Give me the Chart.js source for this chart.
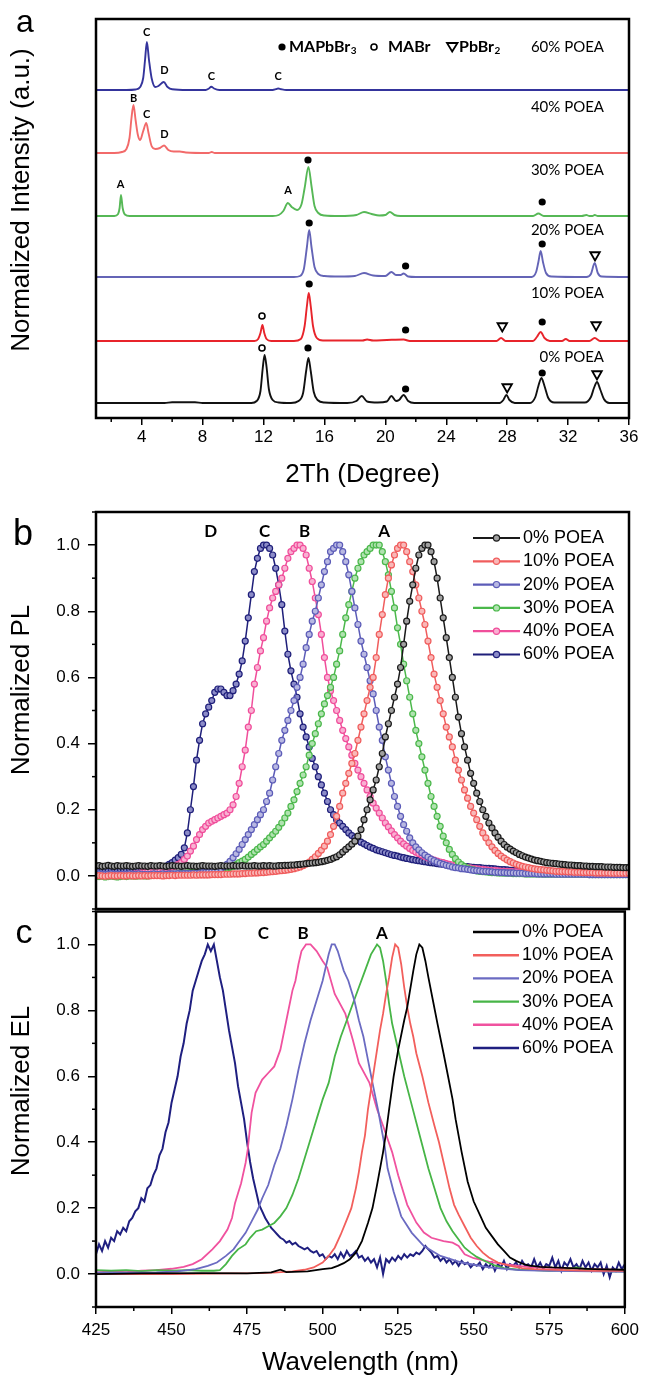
<!DOCTYPE html>
<html><head><meta charset="utf-8">
<script src="https://cdn.jsdelivr.net/npm/chart.js"></script>
<style>
html,body{margin:0;padding:0;background:#fff;}
#wrap{position:relative;width:645px;height:1378px;overflow:hidden;background:#fff;}
canvas{position:absolute;left:0;top:0;}
</style></head><body>
<div id="wrap">
<canvas id="ca" width="645" height="1378"></canvas>
<canvas id="cb" width="645" height="1378"></canvas>
<canvas id="cc" width="645" height="1378"></canvas>
</div>
<script>
// ---------------- DATA ----------------
const seriesLabels = ['0% POEA','10% POEA','20% POEA','30% POEA','40% POEA','60% POEA'];

// Panel a : XRD (2Theta, relative intensity above each trace's baseline)
const xrdTicks = [4,8,12,16,20,24,28,32,36];
const xrdMinorTicks = [2,6,10,14,18,22,26,30,34];
const xrdOffsets = [15,77,141,202,265,328];
const xrd0 = [[1,0],[5.5,0],[6,0.8],[7.5,0.8],[8,0],[11.2,0],[11.55,2],[11.8,12],[11.95,35],[12.07,48],[12.2,36],[12.35,14],[12.6,3],[13,0.5],[13.8,0],[14.3,2],[14.6,10],[14.8,32],[14.95,45],[15.1,32],[15.3,11],[15.55,3],[16,0.5],[17.5,0],[18.1,2],[18.45,7],[18.8,1.5],[19.5,0.5],[20.1,1.5],[20.4,7],[20.7,2],[20.9,3],[21.2,8],[21.5,2],[21.9,0],[27.5,0],[27.75,3],[27.95,8],[28.15,3],[28.5,0],[29.5,0],[29.85,6],[30.05,17],[30.25,25],[30.45,17],[30.7,5],[31.1,0.5],[33.1,0.5],[33.5,6],[33.7,15],[33.9,21],[34.1,14],[34.35,4],[34.7,0],[36,0]];
const xrd10 = [[1,0],[11.4,0],[11.65,2],[11.8,8],[11.93,16],[12.05,8],[12.2,2],[12.5,0],[14,0],[14.45,2],[14.7,15],[14.85,35],[14.97,48],[15.1,35],[15.25,15],[15.5,3],[15.9,0.5],[18.5,0.5],[18.8,1.5],[19.2,0.5],[20.1,1],[21.2,1.5],[21.6,0],[27.3,0],[27.6,3],[27.9,0],[29.7,0],[29.95,4],[30.2,9],[30.45,3],[30.8,0],[31.6,0],[31.85,2],[32.1,0],[33.4,0],[33.75,3],[34.1,0],[36,0]];
const xrd20 = [[1,0],[14,0],[14.4,1],[14.65,8],[14.85,30],[15.0,47],[15.15,30],[15.35,10],[15.6,3],[16,1],[17,0.5],[18,1],[18.6,4],[19.2,1.5],[20,1],[20.4,5],[20.7,2],[21.0,2],[21.2,3.5],[21.5,0.5],[22,0],[29.6,0],[29.9,5],[30.05,15],[30.2,26],[30.35,15],[30.55,4],[30.9,0.5],[33.2,0],[33.5,3],[33.75,14],[33.95,4],[34.2,0.5],[36,0]];
const xrd30 = [[1,0],[2.2,0],[2.45,2],[2.55,8],[2.64,21],[2.75,8],[2.9,1.5],[3.2,0],[12.6,0],[13,1],[13.3,5],[13.6,13],[13.85,9],[14.2,6],[14.5,12],[14.7,28],[14.95,49],[15.15,30],[15.35,10],[15.6,3],[16,0.5],[17,0],[18.1,1],[18.6,4],[19.1,2],[19.6,0.5],[20.0,1],[20.3,4],[20.6,1],[21,0],[29.7,0],[30.05,2.5],[30.4,0],[32.9,0],[33.2,1],[33.4,0],[33.6,0],[33.75,1],[33.95,0],[36,0]];
const xrd40 = [[1,0],[2.2,0],[2.7,1],[3,4],[3.2,15],[3.33,35],[3.46,48],[3.6,33],[3.75,18],[3.9,13],[4.1,22],[4.3,30],[4.45,20],[4.65,7],[4.9,4],[5.2,5],[5.47,7.5],[5.75,3],[6.1,1.5],[6.5,1.5],[6.9,0.5],[8.4,0],[8.6,1],[8.8,0],[36,0]];
const xrd60 = [[1,0],[3,0],[3.6,0.5],[3.9,3],[4.1,12],[4.22,30],[4.34,48],[4.48,30],[4.65,12],[4.9,3],[5.1,4],[5.45,8],[5.7,3],[6,0.7],[7,0],[8.2,0],[8.42,1.5],[8.57,3.3],[8.75,1.5],[9.1,0],[12.6,0],[12.82,0.8],[12.96,1.5],[13.15,0.8],[13.5,0],[36,0]];
// phase markers [2Theta, y]
const mapbbr3Marks = [[14.92,258],[30.3,216],[15.0,195],[21.33,152],[30.3,174],[15.0,134],[21.33,88],[30.3,96],[14.92,70],[21.33,29],[30.3,45]];
const mabrMarks = [[11.9,102],[11.9,70]];
const pbbr2Marks = [[33.77,163],[27.68,92],[33.84,93],[28.0,31],[33.9,44]];

// Panel b : PL, one value per nm from 425 nm to 600 nm
const wlStart = 425;
const wlTicks = [425,450,475,500,525,550,575,600];
const wlMinorTicks = [437.5,462.5,487.5,512.5,537.5,562.5,587.5];
const normTicks = [0,0.2,0.4,0.6,0.8,1.0];
const normMinorTicks = [-0.1,0.1,0.3,0.5,0.7,0.9,1.1];
const pl0 = [0.03,0.031,0.029,0.03,0.032,0.03,0.029,0.031,0.03,0.03,
0.031,0.03,0.029,0.03,0.031,0.03,0.03,0.029,0.031,0.03,
0.03,0.031,0.03,0.029,0.03,0.031,0.03,0.03,0.029,0.03,
0.031,0.03,0.03,0.029,0.03,0.031,0.03,0.03,0.03,0.029,
0.03,0.031,0.03,0.03,0.03,0.031,0.03,0.03,0.031,0.03,
0.03,0.03,0.031,0.03,0.03,0.031,0.03,0.031,0.03,0.03,
0.031,0.031,0.032,0.032,0.033,0.033,0.034,0.035,0.036,0.037,
0.038,0.039,0.04,0.041,0.043,0.045,0.047,0.05,0.054,0.058,
0.064,0.072,0.08,0.088,0.096,0.105,0.12,0.14,0.17,0.2,
0.23,0.26,0.29,0.33,0.37,0.42,0.46,0.5,0.54,0.58,
0.63,0.7,0.77,0.83,0.88,0.93,0.97,0.99,1.0,1.0,
0.98,0.95,0.9,0.84,0.78,0.72,0.66,0.6,0.54,0.48,
0.43,0.39,0.35,0.31,0.28,0.25,0.225,0.2,0.18,0.16,
0.145,0.13,0.117,0.105,0.095,0.087,0.081,0.075,0.07,0.065,
0.061,0.057,0.054,0.051,0.048,0.046,0.044,0.042,0.04,0.039,
0.038,0.037,0.036,0.035,0.034,0.033,0.033,0.032,0.031,0.031,
0.03,0.03,0.029,0.029,0.028,0.028,0.028,0.027,0.027,0.027,
0.026,0.026,0.026,0.025,0.025,0.025];
const pl10 = [0.0,0.001,0.0,-0.001,0.0,0.001,0.0,0.0,0.001,0.0,
0.0,0.001,0.0,0.0,0.001,0.0,0.001,0.0,0.001,0.001,
0.001,0.001,0.0,0.001,0.001,0.002,0.001,0.002,0.002,0.002,
0.002,0.002,0.003,0.002,0.003,0.003,0.003,0.003,0.004,0.004,
0.004,0.004,0.005,0.005,0.005,0.006,0.006,0.006,0.007,0.007,
0.008,0.008,0.009,0.009,0.01,0.01,0.011,0.012,0.013,0.014,
0.015,0.016,0.017,0.018,0.02,0.022,0.024,0.027,0.031,0.036,
0.042,0.05,0.058,0.068,0.078,0.09,0.105,0.125,0.15,0.18,
0.21,0.25,0.28,0.31,0.34,0.37,0.41,0.45,0.49,0.53,
0.57,0.6,0.66,0.73,0.79,0.85,0.9,0.94,0.97,0.99,
1.0,1.0,0.98,0.95,0.92,0.88,0.84,0.8,0.76,0.71,
0.66,0.61,0.57,0.53,0.49,0.45,0.42,0.39,0.35,0.32,
0.29,0.26,0.235,0.21,0.19,0.17,0.15,0.13,0.115,0.1,
0.088,0.077,0.068,0.06,0.054,0.048,0.043,0.039,0.035,0.032,
0.029,0.027,0.025,0.023,0.021,0.02,0.019,0.018,0.017,0.016,
0.015,0.014,0.014,0.013,0.013,0.012,0.012,0.011,0.011,0.011,
0.01,0.01,0.01,0.01,0.009,0.009,0.009,0.009,0.009,0.008,
0.008,0.008,0.008,0.008,0.008,0.008];
const pl20 = [0.005,0.006,0.005,0.004,0.005,0.006,0.005,0.005,0.004,0.005,
0.005,0.006,0.005,0.005,0.006,0.005,0.004,0.005,0.005,0.006,
0.005,0.005,0.006,0.005,0.006,0.006,0.006,0.007,0.006,0.007,
0.007,0.007,0.008,0.008,0.009,0.01,0.011,0.012,0.013,0.015,
0.018,0.022,0.028,0.035,0.044,0.055,0.067,0.08,0.095,0.11,
0.125,0.14,0.155,0.17,0.185,0.2,0.225,0.25,0.29,0.33,
0.37,0.41,0.44,0.47,0.5,0.53,0.57,0.6,0.64,0.69,
0.73,0.77,0.8,0.84,0.88,0.92,0.95,0.98,0.99,1.0,
1.0,0.98,0.95,0.91,0.86,0.81,0.76,0.71,0.67,0.63,
0.59,0.55,0.5,0.45,0.41,0.36,0.32,0.28,0.24,0.21,
0.18,0.155,0.135,0.115,0.1,0.088,0.079,0.07,0.063,0.057,
0.051,0.046,0.042,0.038,0.035,0.032,0.03,0.027,0.025,0.024,
0.022,0.021,0.02,0.018,0.017,0.016,0.015,0.014,0.014,0.013,
0.012,0.011,0.011,0.01,0.01,0.009,0.009,0.009,0.008,0.008,
0.008,0.007,0.007,0.007,0.007,0.006,0.006,0.006,0.006,0.006,
0.006,0.005,0.005,0.005,0.005,0.005,0.005,0.005,0.005,0.005,
0.005,0.005,0.004,0.004,0.004,0.004,0.004,0.004,0.004,0.004,
0.004,0.004,0.004,0.004,0.004,0.004];
const pl30 = [0.0,-0.002,0.0,-0.003,-0.002,0.0,-0.002,-0.003,-0.002,0.0,
-0.002,0.0,0.0,-0.001,0.0,0.001,0.0,0.0,0.001,0.002,
0.002,0.003,0.003,0.004,0.004,0.005,0.005,0.006,0.007,0.008,
0.009,0.01,0.011,0.012,0.013,0.015,0.016,0.017,0.018,0.019,
0.02,0.021,0.022,0.024,0.026,0.029,0.034,0.04,0.045,0.05,
0.057,0.065,0.072,0.08,0.088,0.095,0.105,0.115,0.125,0.135,
0.147,0.16,0.175,0.19,0.21,0.23,0.255,0.28,0.305,0.33,
0.365,0.4,0.43,0.46,0.49,0.52,0.545,0.57,0.6,0.64,
0.68,0.73,0.78,0.82,0.86,0.9,0.93,0.95,0.97,0.98,
0.99,1.0,1.0,1.0,0.98,0.95,0.91,0.86,0.81,0.75,
0.7,0.64,0.59,0.54,0.49,0.44,0.4,0.36,0.32,0.28,
0.24,0.21,0.18,0.15,0.12,0.1,0.08,0.065,0.052,0.042,
0.034,0.028,0.024,0.02,0.018,0.015,0.014,0.013,0.012,0.011,
0.01,0.01,0.009,0.009,0.008,0.008,0.008,0.007,0.007,0.007,
0.007,0.006,0.006,0.006,0.006,0.006,0.006,0.005,0.005,0.005,
0.005,0.005,0.005,0.005,0.005,0.005,0.005,0.005,0.005,0.005,
0.005,0.005,0.004,0.004,0.004,0.004,0.004,0.004,0.004,0.004,
0.004,0.004,0.004,0.004,0.004,0.004];
const pl40 = [0.0,0.001,0.0,0.0,0.001,0.0,0.0,0.001,0.002,0.003,
0.004,0.005,0.005,0.006,0.008,0.01,0.011,0.013,0.015,0.016,
0.018,0.02,0.021,0.023,0.025,0.027,0.03,0.035,0.04,0.05,
0.06,0.075,0.09,0.11,0.125,0.14,0.15,0.16,0.165,0.17,
0.175,0.18,0.185,0.19,0.2,0.215,0.24,0.28,0.33,0.38,
0.45,0.5,0.58,0.63,0.68,0.72,0.77,0.81,0.84,0.86,
0.88,0.9,0.93,0.96,0.98,0.99,1.0,1.0,0.99,0.97,
0.93,0.89,0.84,0.79,0.73,0.66,0.6,0.56,0.53,0.5,
0.47,0.44,0.415,0.39,0.365,0.34,0.32,0.3,0.28,0.26,
0.24,0.22,0.205,0.19,0.175,0.16,0.148,0.136,0.125,0.115,
0.105,0.097,0.09,0.083,0.077,0.072,0.067,0.063,0.059,0.055,
0.051,0.048,0.045,0.042,0.04,0.037,0.035,0.033,0.031,0.029,
0.027,0.026,0.025,0.024,0.022,0.021,0.02,0.019,0.018,0.017,
0.016,0.016,0.015,0.014,0.014,0.013,0.013,0.012,0.012,0.011,
0.011,0.011,0.01,0.01,0.01,0.009,0.009,0.009,0.009,0.008,
0.008,0.008,0.008,0.008,0.007,0.007,0.007,0.007,0.007,0.007,
0.006,0.006,0.006,0.006,0.006,0.006,0.006,0.005,0.005,0.005,
0.005,0.005,0.005,0.005,0.005,0.005];
const pl60 = [0.02,0.019,0.021,0.02,0.018,0.02,0.021,0.019,0.02,0.02,
0.019,0.021,0.02,0.02,0.019,0.021,0.02,0.021,0.02,0.021,
0.022,0.024,0.026,0.03,0.035,0.04,0.048,0.055,0.065,0.085,
0.13,0.2,0.27,0.35,0.41,0.46,0.49,0.51,0.53,0.555,
0.565,0.565,0.555,0.545,0.545,0.56,0.58,0.61,0.65,0.71,
0.78,0.85,0.92,0.96,0.99,1.0,1.0,0.99,0.97,0.93,
0.88,0.82,0.74,0.67,0.62,0.58,0.54,0.49,0.45,0.42,
0.39,0.355,0.33,0.3,0.275,0.25,0.225,0.2,0.185,0.17,
0.16,0.15,0.14,0.13,0.122,0.115,0.108,0.102,0.097,0.092,
0.087,0.083,0.079,0.076,0.073,0.07,0.067,0.064,0.062,0.06,
0.057,0.055,0.053,0.051,0.049,0.047,0.046,0.044,0.043,0.041,
0.04,0.039,0.037,0.036,0.035,0.034,0.033,0.032,0.031,0.03,
0.029,0.028,0.028,0.027,0.026,0.025,0.025,0.024,0.023,0.023,
0.022,0.021,0.02,0.019,0.019,0.018,0.017,0.017,0.016,0.016,
0.015,0.015,0.014,0.014,0.014,0.013,0.013,0.012,0.012,0.012,
0.011,0.011,0.011,0.01,0.01,0.01,0.01,0.009,0.009,0.009,
0.009,0.008,0.008,0.008,0.008,0.007,0.007,0.007,0.007,0.006,
0.006,0.006,0.006,0.005,0.005,0.005];

// Panel c : EL [wavelength, normalized EL]
const el0 = [[425,0],[440,0.002],[460,0.003],[475,0.002],[483,0.005],[486,0.013],[488,0.006],[495,0.008],[500,0.015],[503,0.018],[505,0.025],[507,0.033],[509,0.045],[511,0.065],[513,0.1],[515,0.155],[516.5,0.2],[518,0.27],[520,0.37],[521,0.43],[522,0.5],[523.5,0.6],[525,0.68],[527,0.77],[528,0.81],[530,0.92],[531,0.97],[532,1.0],[533,0.99],[534,0.95],[535,0.9],[536.5,0.83],[538,0.76],[540,0.67],[541.5,0.6],[543,0.53],[544,0.47],[545,0.42],[546,0.37],[548,0.28],[550,0.22],[552,0.18],[554,0.14],[556,0.115],[558,0.09],[560,0.07],[562,0.05],[564,0.04],[566,0.032],[568,0.026],[572,0.022],[576,0.02],[580,0.019],[590,0.015],[600,0.013]];
const el10 = [[425,0],[450,0],[470,0.002],[480,0.003],[485,0.005],[490,0.008],[494,0.013],[497,0.02],[500,0.035],[502,0.055],[504,0.08],[506,0.12],[508,0.165],[509.5,0.2],[511,0.26],[512,0.31],[513,0.37],[514,0.42],[515,0.5],[516,0.56],[517,0.62],[518,0.68],[519,0.74],[520,0.79],[521,0.85],[522,0.9],[523,0.96],[524,1.0],[525,0.99],[526,0.94],[527,0.87],[528,0.81],[529,0.76],[530,0.72],[531,0.67],[533,0.6],[535,0.52],[537,0.45],[538.5,0.4],[540,0.34],[541,0.3],[542,0.26],[543.5,0.21],[545,0.18],[547,0.145],[549,0.11],[551,0.085],[553,0.065],[555,0.05],[558,0.035],[562,0.025],[566,0.018],[570,0.015],[580,0.012],[590,0.01],[600,0.01]];
const el20 = [[425,0.004],[435,0.004],[445,0.005],[452,0.008],[458,0.015],[462,0.025],[465,0.035],[468,0.055],[470.5,0.075],[472.5,0.1],[474.5,0.125],[476.5,0.16],[478.5,0.195],[480,0.23],[482,0.27],[484,0.33],[486,0.38],[488,0.45],[490,0.53],[492,0.62],[494,0.7],[496,0.77],[498,0.83],[500,0.89],[501,0.93],[502,0.97],[503,1.0],[504,1.0],[505,0.98],[506,0.95],[507,0.92],[508.5,0.89],[510.5,0.83],[512,0.77],[513.5,0.72],[515,0.65],[516.5,0.58],[518.5,0.49],[520.5,0.39],[521.5,0.32],[523.5,0.25],[526,0.175],[529.5,0.125],[533.5,0.085],[539,0.055],[546,0.035],[555,0.02],[565,0.012],[575,0.01],[590,0.008],[600,0.007]];
const el30 = [[425,0.012],[430,0.01],[435,0.012],[440,0.009],[445,0.012],[450,0.01],[455,0.012],[460,0.01],[464,0.01],[466,0.012],[468,0.03],[470,0.055],[472,0.075],[474.5,0.09],[476,0.11],[478,0.13],[480,0.135],[482,0.145],[484,0.155],[486,0.175],[488,0.2],[490,0.24],[492,0.29],[494,0.35],[496,0.41],[498,0.47],[500,0.53],[502,0.58],[504,0.66],[506,0.72],[508,0.77],[510,0.82],[512,0.87],[514,0.92],[516,0.97],[518,1.0],[519,0.99],[520,0.95],[521,0.89],[522,0.82],[523,0.76],[525,0.68],[527,0.6],[529,0.53],[531,0.46],[533,0.39],[535,0.32],[537,0.26],[539,0.2],[541,0.16],[543,0.13],[545,0.105],[547,0.08],[549,0.065],[551,0.052],[554,0.038],[557,0.026],[560,0.018],[565,0.013],[570,0.012],[575,0.01],[580,0.012],[584,0.02],[587,0.015],[590,0.01],[595,0.008],[600,0.008]];
const el40 = [[425,0.005],[430,0.008],[435,0.006],[440,0.01],[445,0.012],[450,0.016],[454,0.022],[457,0.03],[460,0.045],[463.5,0.075],[466,0.1],[468.5,0.135],[470,0.17],[471,0.215],[472,0.245],[473,0.275],[474.5,0.337],[475.2,0.377],[475.8,0.43],[476.5,0.49],[477.8,0.55],[480,0.59],[482,0.61],[484,0.63],[486,0.68],[488,0.77],[490,0.86],[491,0.89],[492,0.94],[493,0.98],[494.5,1.0],[496,1.0],[498,0.98],[500,0.95],[501.5,0.93],[504,0.85],[507.5,0.79],[510,0.71],[512,0.64],[515.5,0.58],[518,0.5],[520,0.45],[523,0.37],[525,0.3],[528,0.21],[531,0.156],[533.5,0.126],[536,0.11],[540,0.1],[543,0.095],[545,0.085],[547,0.06],[550,0.048],[555,0.038],[560,0.03],[569,0.02],[580,0.018],[590,0.015],[600,0.012]];
// 60% EL, one value per nm from 425 nm
const el60 = [0.06,0.09,0.07,0.1,0.08,0.11,0.1,0.13,0.12,0.14,
0.13,0.16,0.17,0.19,0.2,0.23,0.22,0.26,0.27,0.3,
0.32,0.36,0.38,0.43,0.46,0.52,0.56,0.6,0.66,0.7,
0.76,0.8,0.86,0.89,0.92,0.95,0.97,1.0,0.98,1.0,
0.95,0.9,0.86,0.8,0.74,0.69,0.64,0.57,0.52,0.47,
0.4,0.34,0.29,0.25,0.21,0.19,0.17,0.155,0.14,0.13,
0.12,0.11,0.105,0.095,0.1,0.09,0.095,0.085,0.08,0.075,
0.08,0.07,0.065,0.07,0.055,0.06,0.045,0.055,0.05,0.06,
0.045,0.065,0.05,0.07,0.055,0.06,0.07,0.05,0.055,0.04,
0.05,0.035,0.045,0.02,0.05,0.0,0.045,0.035,0.05,0.04,
0.055,0.045,0.06,0.05,0.06,0.055,0.065,0.06,0.07,0.085,
0.075,0.065,0.05,0.055,0.04,0.05,0.035,0.045,0.03,0.04,
0.025,0.04,0.03,0.035,0.02,0.03,0.025,0.035,0.015,0.03,
0.02,0.035,0.01,0.03,0.02,0.04,0.015,0.03,0.025,0.035,
0.02,0.04,0.025,0.03,0.02,0.045,0.02,0.035,0.015,0.03,
0.025,0.05,0.02,0.04,0.01,0.035,0.025,0.045,0.02,0.03,
0.015,0.04,0.02,0.035,0.01,0.03,0.02,0.035,0.0,0.025,
-0.01,0.02,0.01,0.035,0.015,0.03];

// ---------------- STYLE ----------------
const FONT = "'Liberation Sans', Arial, sans-serif";
const CAL = "Lato, 'Open Sans', sans-serif";
Chart.defaults.font.family = FONT;
Chart.defaults.color = '#000';
const xrdColors = ['#111111','#e8242b','#6464b6','#56b856','#f26a6a','#34349c'];
const plColors = ['#1a1a1a','#f05d5d','#5c5cb8','#4bb84b','#f04e9b','#1f1f7a'];
const plFills  = ['#a0a0a0','#f9b8b8','#b8b8e2','#b0e2b0','#f9b0d2','#8c8cc8'];
const elColors = ['#000000','#f25f5c','#6b6bc2','#47b547','#f0529f','#1f1f80'];

function sub(ctx, main, s, x, y, f1, f2){
  ctx.font = f1; ctx.fillText(main, x, y);
  const w = ctx.measureText(main).width;
  ctx.font = f2; ctx.fillText(s, x + w + 0.5, y + 4);
}
function yTitle(ctx, text, cx, cy){
  ctx.save(); ctx.translate(cx, cy); ctx.rotate(-Math.PI/2);
  ctx.font = '26px ' + FONT; ctx.textAlign = 'center'; ctx.textBaseline = 'middle';
  ctx.fillStyle = '#000'; ctx.fillText(text, 0, 0); ctx.restore();
}
function frame(ctx, a){
  ctx.strokeStyle = '#000'; ctx.lineWidth = 2.5;
  ctx.strokeRect(a.left, a.top, a.right - a.left, a.bottom - a.top);
}
function minorX(ctx, a, sx, vals, len){
  ctx.strokeStyle = '#000'; ctx.lineWidth = 1.5;
  vals.forEach(v => { const p = sx.getPixelForValue(v); ctx.beginPath(); ctx.moveTo(p, a.bottom); ctx.lineTo(p, a.bottom + len); ctx.stroke(); });
}
function minorY(ctx, a, sy, vals, len){
  ctx.strokeStyle = '#000'; ctx.lineWidth = 1.5;
  vals.forEach(v => { const p = sy.getPixelForValue(v); ctx.beginPath(); ctx.moveTo(a.left - len, p); ctx.lineTo(a.left, p); ctx.stroke(); });
}
function panelLetter(ctx, t, x, y, size){
  ctx.font = size + 'px ' + FONT; ctx.textAlign = 'center'; ctx.textBaseline = 'alphabetic';
  ctx.fillStyle = '#000'; ctx.fillText(t, x, y);
}

const baseOpts = {
  responsive: false, animation: false, devicePixelRatio: 1,
  plugins: { legend: {display: false}, tooltip: {enabled: false} }
};

// ---------------- PANEL A ----------------
const xrdSeries = [xrd0, xrd10, xrd20, xrd30, xrd40, xrd60];
const panelA = {
  id: 'panelA',
  afterDatasetsDraw(chart){
    const {ctx, chartArea: a, scales: {x, y}} = chart;
    ctx.save();
    minorX(ctx, a, x, xrdMinorTicks, 4);
    frame(ctx, a);
    ctx.fillStyle = '#000'; ctx.textBaseline = 'middle';
    const letters = [['C',4.32,386],['D',5.5,348],['C',8.57,342],['C',12.96,342],['B',3.47,320],['C',4.32,304],['D',5.5,284],['A',2.62,234],['A',13.61,228]];
    ctx.font = 'bold 11px ' + CAL; ctx.textAlign = 'center';
    letters.forEach(([t, vx, vy]) => ctx.fillText(t, x.getPixelForValue(vx), y.getPixelForValue(vy)));
    const labY = [61,125,188,248,311,371];
    ctx.font = '15px ' + CAL; ctx.textAlign = 'right';
    seriesLabels.forEach((t, i) => ctx.fillText(t, 604, y.getPixelForValue(labY[i])));
    // phase legend
    const ly = 47;
    ctx.textAlign = 'left';
    ctx.beginPath(); ctx.arc(282, ly, 3.6, 0, 2*Math.PI); ctx.fill();
    sub(ctx, 'MAPbBr', '3', 289, ly, 'bold 16px ' + CAL, 'bold 10px ' + CAL);
    ctx.strokeStyle = '#000'; ctx.lineWidth = 1.6;
    ctx.beginPath(); ctx.arc(374, ly, 3, 0, 2*Math.PI); ctx.stroke();
    ctx.font = 'bold 16px ' + CAL; ctx.fillText('MABr', 388, ly);
    ctx.lineWidth = 1.8;
    ctx.beginPath(); ctx.moveTo(447, ly - 4); ctx.lineTo(457.5, ly - 4); ctx.lineTo(452.2, ly + 4.5); ctx.closePath(); ctx.stroke();
    sub(ctx, 'PbBr', '2', 459, ly, 'bold 16px ' + CAL, 'bold 10px ' + CAL);
    panelLetter(ctx, 'a', 25, 32, 32);
    yTitle(ctx, 'Normalized Intensity (a.u.)', 22, 200);
    ctx.restore();
  }
};
new Chart(document.getElementById('ca'), {
  type: 'line',
  data: { datasets: [
    ...xrdSeries.map((s, i) => ({
      label: seriesLabels[i],
      data: s.map(([x, h]) => ({x, y: h + xrdOffsets[i]})),
      borderColor: xrdColors[i], borderWidth: 1.9, pointRadius: 0,
      cubicInterpolationMode: 'monotone', fill: false
    })),
    {label: 'MAPbBr3', data: mapbbr3Marks.map(([x, y]) => ({x, y})), showLine: false,
     pointStyle: 'circle', pointRadius: 3.6, pointBackgroundColor: '#000', pointBorderColor: '#000', pointBorderWidth: 0},
    {label: 'MABr', data: mabrMarks.map(([x, y]) => ({x, y})), showLine: false,
     pointStyle: 'circle', pointRadius: 3, pointBackgroundColor: '#fff', pointBorderColor: '#000', pointBorderWidth: 1.6},
    {label: 'PbBr2', data: pbbr2Marks.map(([x, y]) => ({x, y})), showLine: false,
     pointStyle: 'triangle', pointRotation: 180, pointRadius: 5.5, pointBackgroundColor: '#fff', pointBorderColor: '#000', pointBorderWidth: 1.8}
  ]},
  options: {
    ...baseOpts,
    layout: {padding: {left: 0, right: 16, top: 19, bottom: 888}},
    scales: {
      x: {type: 'linear', min: 1, max: 36,
        afterBuildTicks: s => { s.ticks = xrdTicks.map(v => ({value: v})); },
        ticks: {font: {size: 17}, color: '#000', padding: 2, maxRotation: 0, autoSkip: false, callback: v => String(v)},
        grid: {drawOnChartArea: false, drawTicks: true, tickLength: 7, color: '#000', lineWidth: 1.5},
        border: {display: false},
        title: {display: true, text: '2Th (Degree)', font: {size: 26}, color: '#000', padding: {top: 0, bottom: 0}},
        afterFit: s => { s.height = 72; }},
      y: {type: 'linear', min: 0, max: 399, ticks: {display: false}, grid: {display: false}, border: {display: false},
        afterFit: s => { s.width = 96; }}
    }
  },
  plugins: [panelA]
});

// ---------------- PANEL B ----------------
const plSeries = [pl0, pl10, pl20, pl30, pl40, pl60];
const panelB = {
  id: 'panelB',
  afterDatasetsDraw(chart){
    const {ctx, chartArea: a, scales: {x, y}} = chart;
    ctx.save();
    minorY(ctx, a, y, normMinorTicks, 4);
    frame(ctx, a);
    ctx.fillStyle = '#000'; ctx.textBaseline = 'middle'; ctx.textAlign = 'center';
    ctx.font = 'bold 17px ' + CAL;
    [['D',462.7],['C',480.4],['B',493.5],['A',519.6]].forEach(([t, v]) => ctx.fillText(t, x.getPixelForValue(v), y.getPixelForValue(1.042)));
    const rows = [538, 561.3, 584.6, 607.9, 631.2, 654.5];
    chart.data.datasets.forEach((ds, i) => {
      const yy = rows[i];
      ctx.strokeStyle = ds.borderColor; ctx.lineWidth = 2.2;
      ctx.beginPath(); ctx.moveTo(473, yy); ctx.lineTo(520, yy); ctx.stroke();
      ctx.fillStyle = ds.pointBackgroundColor; ctx.lineWidth = 1.2;
      ctx.beginPath(); ctx.arc(496.5, yy, 3.1, 0, 2*Math.PI); ctx.fill(); ctx.stroke();
      ctx.fillStyle = '#000'; ctx.font = '18px ' + FONT; ctx.textAlign = 'left';
      ctx.fillText(ds.label, 523, yy);
    });
    panelLetter(ctx, 'b', 23, 545, 36);
    yTitle(ctx, 'Normalized PL', 22, 690);
    ctx.restore();
  }
};
const normY = {
  type: 'linear', min: -0.1, max: 1.1,
  afterBuildTicks: s => { s.ticks = normTicks.map(v => ({value: v})); },
  ticks: {font: {size: 17}, color: '#000', padding: 8, autoSkip: false, callback: v => Number(v).toFixed(1)},
  grid: {drawOnChartArea: false, drawTicks: true, tickLength: 8, color: '#000', lineWidth: 1.5},
  border: {display: false},
  afterFit: s => { s.width = 96; }
};
new Chart(document.getElementById('cb'), {
  type: 'line',
  data: { datasets: plSeries.map((s, i) => ({
    label: seriesLabels[i],
    data: s.map((v, k) => ({x: wlStart + k, y: v})),
    borderColor: plColors[i], borderWidth: 1.5,
    pointRadius: 3, pointBackgroundColor: plFills[i], pointBorderColor: plColors[i], pointBorderWidth: 1.2,
    tension: 0, fill: false
  }))},
  options: {
    ...baseOpts,
    layout: {padding: {left: 0, right: 16, top: 512, bottom: 469}},
    scales: {
      x: {type: 'linear', min: 425, max: 600, display: false},
      y: normY
    }
  },
  plugins: [panelB]
});

// ---------------- PANEL C ----------------
const elSeries = [el0, el10, el20, el30, el40];
const panelC = {
  id: 'panelC',
  afterDatasetsDraw(chart){
    const {ctx, chartArea: a, scales: {x, y}} = chart;
    ctx.save();
    minorY(ctx, a, y, normMinorTicks, 4);
    minorX(ctx, a, x, wlMinorTicks, 4);
    frame(ctx, a);
    ctx.fillStyle = '#000'; ctx.textBaseline = 'middle'; ctx.textAlign = 'center';
    ctx.font = 'bold 17px ' + CAL;
    [['D',462.7],['C',480.4],['B',493.5],['A',519.6]].forEach(([t, v]) => ctx.fillText(t, x.getPixelForValue(v), y.getPixelForValue(1.033)));
    const rows = [932, 955.2, 978.4, 1001.6, 1024.8, 1048];
    chart.data.datasets.forEach((ds, i) => {
      const yy = rows[i];
      ctx.strokeStyle = ds.borderColor; ctx.lineWidth = 2.4;
      ctx.beginPath(); ctx.moveTo(473, yy); ctx.lineTo(519, yy); ctx.stroke();
      ctx.fillStyle = '#000'; ctx.font = '18px ' + FONT; ctx.textAlign = 'left';
      ctx.fillText(ds.label, 522, yy);
    });
    panelLetter(ctx, 'c', 24, 943, 34);
    yTitle(ctx, 'Normalized EL', 22, 1091);
    ctx.restore();
  }
};
new Chart(document.getElementById('cc'), {
  type: 'line',
  data: { datasets: [
    ...elSeries.map((s, i) => ({
      label: seriesLabels[i],
      data: s.map(([x, v]) => ({x, y: v})),
      borderColor: elColors[i], borderWidth: 1.8, pointRadius: 0, tension: 0, fill: false
    })),
    {label: seriesLabels[5], data: el60.map((v, k) => ({x: wlStart + k, y: v})),
     borderColor: elColors[5], borderWidth: 2, pointRadius: 0, tension: 0, fill: false}
  ]},
  options: {
    ...baseOpts,
    layout: {padding: {left: 0, right: 16, top: 911.5, bottom: 0}},
    scales: {
      x: {type: 'linear', min: 425, max: 600,
        afterBuildTicks: s => { s.ticks = wlTicks.map(v => ({value: v})); },
        ticks: {font: {size: 17}, color: '#000', padding: 6, maxRotation: 0, autoSkip: false, callback: v => String(v)},
        grid: {drawOnChartArea: false, drawTicks: true, tickLength: 7, color: '#000', lineWidth: 1.5},
        border: {display: false},
        title: {display: true, text: 'Wavelength (nm)', font: {size: 26}, color: '#000', padding: {top: 0, bottom: 0}},
        afterFit: s => { s.height = 71; }},
      y: normY
    }
  },
  plugins: [panelC]
});
</script>
</body></html>
